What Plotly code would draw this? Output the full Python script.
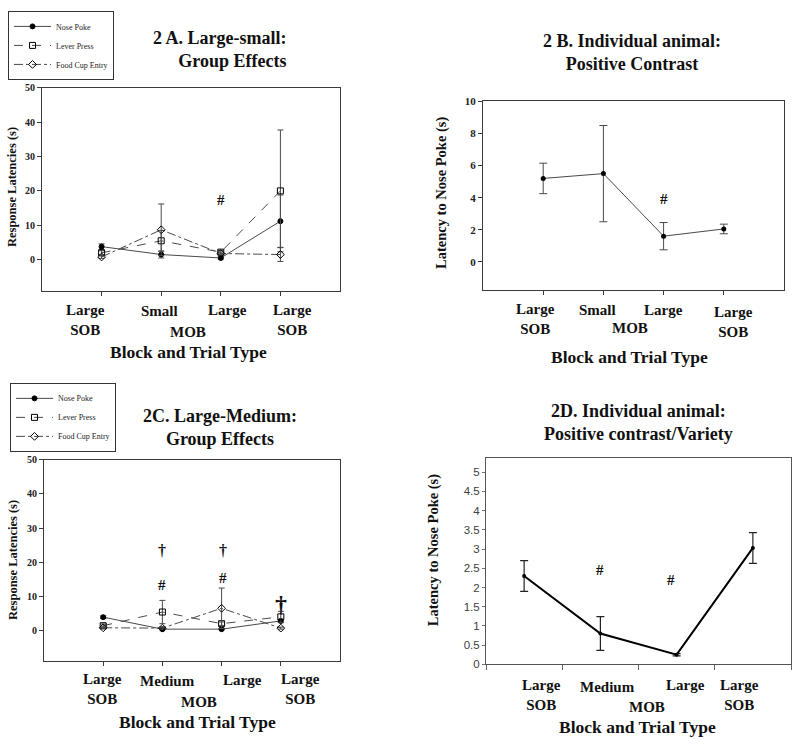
import plotly.graph_objects as go

# ---------------- data ----------------
x_pos = [1, 2, 3, 4]
series_names = ["Nose Poke", "Lever Press", "Food Cup Entry"]

A_nose = [3.8, 1.5, 0.5, 11.2]
A_nose_err = [0.8, 1.0, 0.3, 7.6]
A_lever = [2.0, 5.5, 2.2, 20.0]
A_lever_err = [0.6, 3.0, 0.5, 17.7]
A_food = [0.8, 8.7, 1.8, 1.5]
A_food_err = [0.4, 7.5, 0.4, 2.0]

B_vals = [5.2, 5.5, 1.6, 2.05]
B_err = [0.95, 3.0, 0.85, 0.3]

C_nose = [4.0, 0.5, 0.5, 2.9]
C_nose_err = [0.4, 0.2, 0.2, 0.5]
C_lever = [1.5, 5.5, 2.1, 4.1]
C_lever_err = [0.5, 3.4, 0.5, 1.6]
C_food = [0.9, 0.8, 6.6, 0.8]
C_food_err = [0.3, 0.3, 5.9, 0.3]

D_vals = [2.3, 0.8, 0.25, 3.03]
D_err = [0.4, 0.44, 0.03, 0.4]

A_ticks = [0, 10, 20, 30, 40, 50]
B_ticks = [0, 2, 4, 6, 8, 10]
D_ticks = [0, 0.5, 1, 1.5, 2, 2.5, 3, 3.5, 4, 4.5, 5]
D_ticktext = ["0", "0.5", "1", "1.5", "2", "2.5", "3", "3.5", "4", "4.5", "5"]

cats_AB_small = ["Large<br>SOB", "Small", "Large", "Large<br>SOB"]
cats_CD_medium = ["Large<br>SOB", "Medium", "Large", "Large<br>SOB"]
block_label = "MOB"
x_title = "Block and Trial Type"

titles = ["2 A. Large-small:<br>Group Effects",
          "2 B. Individual animal:<br>Positive Contrast",
          "2C. Large-Medium:<br>Group Effects",
          "2D. Individual animal:<br>Positive contrast/Variety"]
y_titles = ["Response Latencies (s)", "Latency to Nose Poke (s)",
            "Response Latencies (s)", "Latency to Nose Poke (s)"]

# significance marks: (panel, x, y, text, size)
sig_marks = [
    ("A", 3.0, 17.4, "#", 15),
    ("B", 3.0, 3.9, "#", 15),
    ("C", 2.0, 23.6, "†", 16),
    ("C", 2.0, 13.5, "#", 15),
    ("C", 3.03, 23.6, "†", 16),
    ("C", 3.03, 15.5, "#", 15),
    ("C", 4.0, 7.8, "†", 24),
    ("D", 2.0, 2.46, "#", 15),
    ("D", 2.93, 2.2, "#", 15),
]

# ---------------- helpers ----------------
W, H = 800, 750
def px(x):
    return x / W
def py(y):
    return 1 - y / H

SERIF = "Liberation Serif"
SANS = "Liberation Sans"
AX = "#3a3a3a"
LINEC = "#4a4a4a"

fig = go.Figure()

def group_traces(xa, ya, nose, nose_e, lever, lever_e, food, food_e, legend):
    styles = [
        (nose, nose_e, "solid", dict(symbol="circle", size=5, color="black",
                                      line=dict(color="black", width=1))),
        (lever, lever_e, "dash", dict(symbol="square-open", size=6, color="black",
                                       line=dict(width=1))),
        (food, food_e, "dashdot", dict(symbol="diamond-open", size=6, color="black",
                                        line=dict(width=1))),
    ]
    for name, (vals, errs, dash, mk) in zip(series_names, styles):
        fig.add_trace(go.Scatter(
            x=x_pos, y=vals, name=name, mode="lines+markers",
            xaxis=xa, yaxis=ya, legend=legend,
            line=dict(color=LINEC, width=1, dash=dash),
            marker=mk,
            error_y=dict(type="data", array=errs, visible=True,
                         color=LINEC, thickness=1, width=3),
        ))

group_traces("x", "y", A_nose, A_nose_err, A_lever, A_lever_err, A_food, A_food_err, "legend")
group_traces("x3", "y3", C_nose, C_nose_err, C_lever, C_lever_err, C_food, C_food_err, "legend2")

fig.add_trace(go.Scatter(
    x=x_pos, y=B_vals, mode="lines+markers", xaxis="x2", yaxis="y2", showlegend=False,
    line=dict(color=LINEC, width=1), marker=dict(symbol="circle", size=5, color="black"),
    error_y=dict(type="data", array=B_err, color=LINEC, thickness=1, width=4)))

fig.add_trace(go.Scatter(
    x=x_pos, y=D_vals, mode="lines+markers", xaxis="x4", yaxis="y4", showlegend=False,
    line=dict(color="black", width=2), marker=dict(symbol="circle", size=4, color="black"),
    error_y=dict(type="data", array=D_err, color="#222", thickness=1.2, width=4)))

# ---------------- axes ----------------
def sp_x(dom, anchor):
    return dict(domain=dom, anchor=anchor, range=[0, 5], tickvals=x_pos,
                showticklabels=False, ticks="outside", ticklen=4, tickcolor=AX,
                showline=True, linecolor=AX, linewidth=1, mirror=True,
                showgrid=False, zeroline=False, fixedrange=True)

def sp_y(dom, anchor, rng, tv, size):
    return dict(domain=dom, anchor=anchor, range=rng, tickvals=tv,
                ticks="outside", ticklen=4, tickcolor=AX,
                tickfont=dict(family=SERIF, size=size, color="#222", weight="bold"),
                showline=True, linecolor=AX, linewidth=1, mirror=True,
                showgrid=False, zeroline=False, fixedrange=True)

fig.update_layout(
    xaxis=sp_x([px(42), px(340)], "y"),
    yaxis=sp_y([py(290), py(83)], "x", [-9.2, 50], A_ticks, 10),
    xaxis2=sp_x([px(483), px(784)], "y2"),
    yaxis2=sp_y([py(289), py(97)], "x2", [-1.78, 10], B_ticks, 11),
    xaxis3=sp_x([px(44), px(340)], "y3"),
    yaxis3=sp_y([py(666), py(461)], "x3", [-8.9, 50], A_ticks, 10),
    xaxis4=dict(domain=[px(486), px(791)], anchor="y4", range=[0.5, 4.5],
                tickvals=[0.5, 1.5, 2.5, 3.5, 4.5], showticklabels=False,
                ticks="outside", ticklen=5, tickcolor="#666",
                showline=True, linecolor="#555", linewidth=1, mirror=True,
                showgrid=False, zeroline=False, fixedrange=True),
    yaxis4=dict(domain=[py(669), py(459)], anchor="x4", range=[0, 5.38],
                tickvals=D_ticks, ticktext=D_ticktext, ticks="outside", ticklen=3,
                tickcolor="#777",
                tickfont=dict(family=SANS, size=11.5, color="#404040"),
                showline=True, linecolor="#555", linewidth=1, mirror=True,
                showgrid=False, zeroline=False, fixedrange=True),
)

legend_style = dict(bgcolor="white", bordercolor="#333", borderwidth=1,
                    font=dict(family=SERIF, size=8, color="#222"),
                    itemwidth=37, tracegroupgap=0, xanchor="left", yanchor="top")
fig.update_layout(
    legend=dict(x=px(8), y=py(5), **legend_style),
    legend2=dict(x=px(10), y=py(383), **legend_style),
)

# ---------------- text ----------------
ann = []
def txt(x, y, text, size, angle=0, xanchor="center", align="center", weight="bold"):
    ann.append(dict(x=px(x), y=py(y), xref="paper", yref="paper", text=text,
                    showarrow=False, xanchor=xanchor, yanchor="middle", align=align,
                    textangle=angle,
                    font=dict(family=SERIF, size=size, color="#111", weight=weight)))

# titles
txt(288, 44, titles[0], 18, xanchor="right", align="right")
txt(632, 47, titles[1], 18)
txt(220, 428, titles[2], 18)
txt(638, 423, titles[3], 18)

# y titles
txt(12, 184, y_titles[0], 12.5, angle=-90)
txt(442, 190, y_titles[1], 14.5, angle=-90)
txt(13, 563, y_titles[2], 12.5, angle=-90)
txt(433, 553, y_titles[3], 14.5, angle=-90)

# category labels
cat_pos = {
    "A": [(85, 319), (159, 310), (227, 309), (292, 319), (188, 331)],
    "B": [(535, 318), (597, 309), (663, 309), (733, 321), (630, 327)],
    "C": [(102, 694), (167, 686), (242, 685), (300, 694), (199, 707)],
    "D": [(541, 700), (607, 692), (685, 690), (739, 700), (647, 712)],
}
cat_text = {"A": cats_AB_small, "B": cats_AB_small, "C": cats_CD_medium, "D": cats_CD_medium}
for k in "ABCD":
    for (x, y), t in zip(cat_pos[k][:4], cat_text[k]):
        txt(x, y, t, 15)
    x, y = cat_pos[k][4]
    txt(x, y, block_label, 15)

# x titles
txt(188, 352, x_title, 17.5)
txt(629, 357, x_title, 17.5)
txt(197, 728, x_title, 17.5)
txt(637, 733, x_title, 17.5)

# significance marks in data coordinates
axmap = {"A": ("x", "y"), "B": ("x2", "y2"), "C": ("x3", "y3"), "D": ("x4", "y4")}
for panel, x, y, t, s in sig_marks:
    xr, yr = axmap[panel]
    ann.append(dict(x=x, y=y, xref=xr, yref=yr, text=t, showarrow=False,
                    font=dict(family=SERIF, size=s, color="#111", weight="bold")))

fig.update_layout(annotations=ann, width=W, height=H,
                  margin=dict(l=0, r=0, t=0, b=0),
                  paper_bgcolor="white", plot_bgcolor="white")

fig.write_html("out.html", config={"displayModeBar": False},
               post_script="document.body.style.margin='0px';document.body.style.padding='0px';")
